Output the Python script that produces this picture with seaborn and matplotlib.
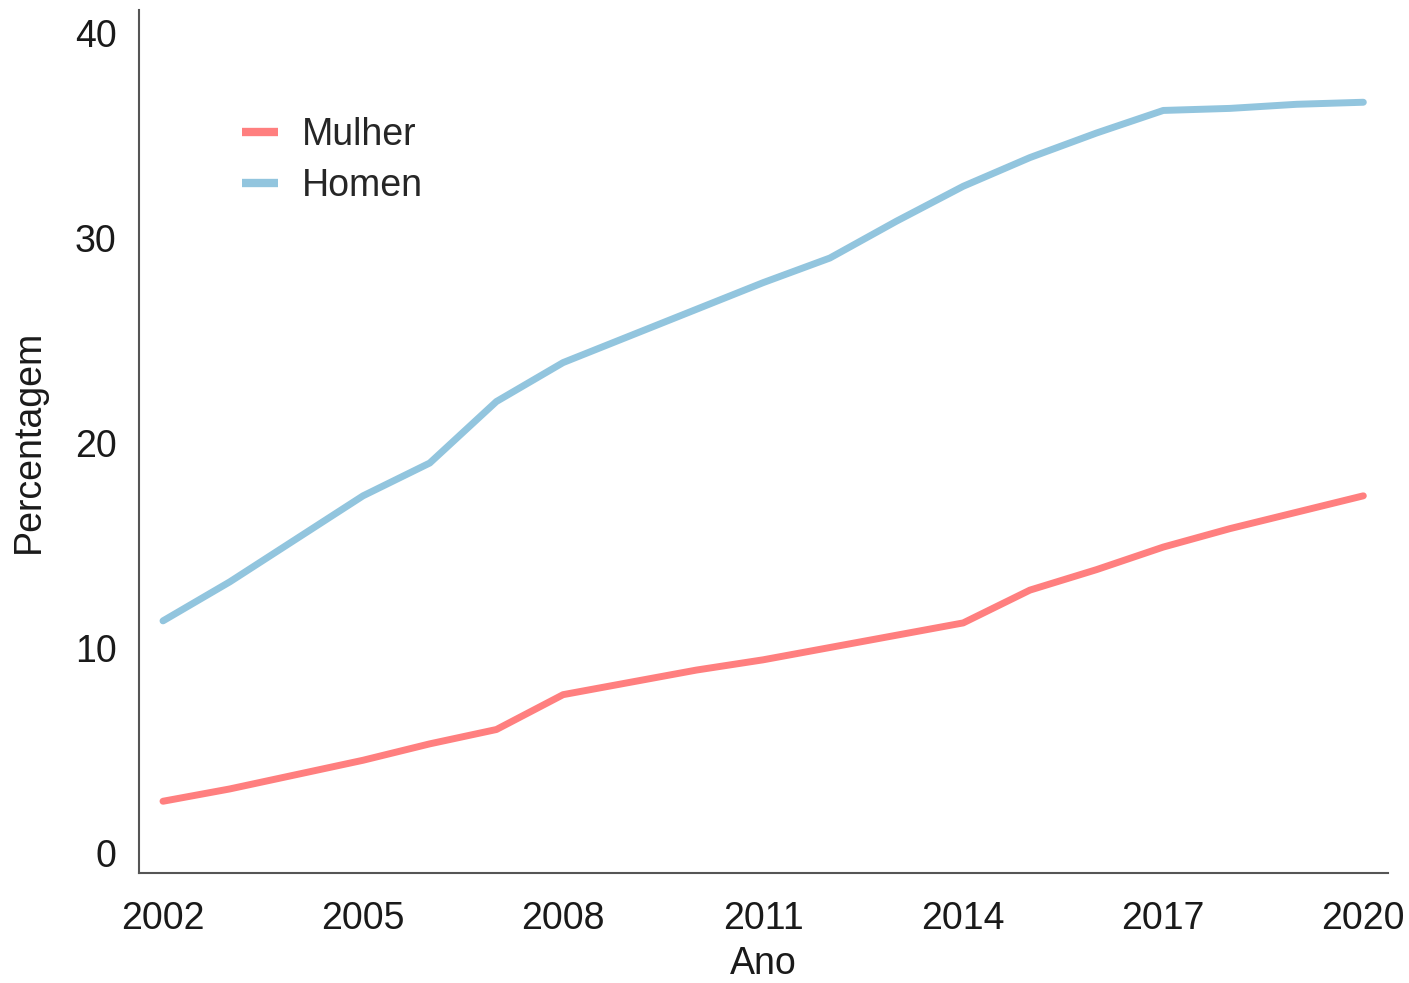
import pandas as pd
import numpy as np
import matplotlib
matplotlib.use("Agg")
import matplotlib.pyplot as plt
import seaborn as sns

anos = [2002, 2003, 2004, 2005, 2006, 2007, 2008, 2009, 2010, 2011,
        2012, 2013, 2014, 2015, 2016, 2017, 2018, 2019, 2020]
mulher = [2.5, 3.1, 3.8, 4.5, 5.3, 6.0, 7.7, 8.3, 8.9, 9.4,
          10.0, 10.6, 11.2, 12.8, 13.8, 14.9, 15.8, 16.6, 17.4]
homen = [11.3, 13.2, 15.3, 17.4, 19.0, 22.0, 23.9, 25.2, 26.5, 27.8,
         29.0, 30.8, 32.5, 33.9, 35.1, 36.2, 36.3, 36.5, 36.6]
xticks = [2002, 2005, 2008, 2011, 2014, 2017, 2020]
yticks = [0, 10, 20, 30, 40]

df = pd.DataFrame({"Ano": anos * 2,
                   "Percentagem": mulher + homen,
                   "Sexo": ["Mulher"] * len(anos) + ["Homen"] * len(anos)})

sns.set_style("white")
plt.rcParams["font.family"] = ["Liberation Sans", "DejaVu Sans"]

fig = plt.figure(figsize=(14.09, 9.83), dpi=100)
ax = fig.add_axes([139 / 1409, 1 - 873 / 983, 1249 / 1409, 863 / 983])

sns.lineplot(data=df, x="Ano", y="Percentagem", hue="Sexo",
             palette={"Mulher": "#ff7f7f", "Homen": "#92c5de"},
             linewidth=5, ax=ax)

ax.set_xlim(2001.64, 2020.37)
ax.set_ylim(-1.0, 41.1)
ax.set_xticks(xticks)
ax.set_yticks(yticks)
ax.tick_params(axis="both", length=0, labelsize=27, labelcolor="#1a1a1a")
ax.tick_params(axis="y", pad=16)
ax.tick_params(axis="x", pad=20)
ax.set_xlabel("Ano", fontsize=27, color="#1a1a1a", labelpad=7)
ax.set_ylabel("Percentagem", fontsize=27, color="#1a1a1a", labelpad=20)

for s in ["top", "right"]:
    ax.spines[s].set_visible(False)
for s in ["left", "bottom"]:
    ax.spines[s].set_color("#555555")
    ax.spines[s].set_linewidth(1.5)

leg = ax.legend(loc="upper left", bbox_to_anchor=(0.0555, 0.915), frameon=False,
                fontsize=27, handlelength=0.95, handletextpad=0.65, labelspacing=0.4)
for line in leg.get_lines():
    line.set_linewidth(6)
    line.set_solid_capstyle("butt")

fig.savefig("out.png", dpi=100, facecolor="white")
